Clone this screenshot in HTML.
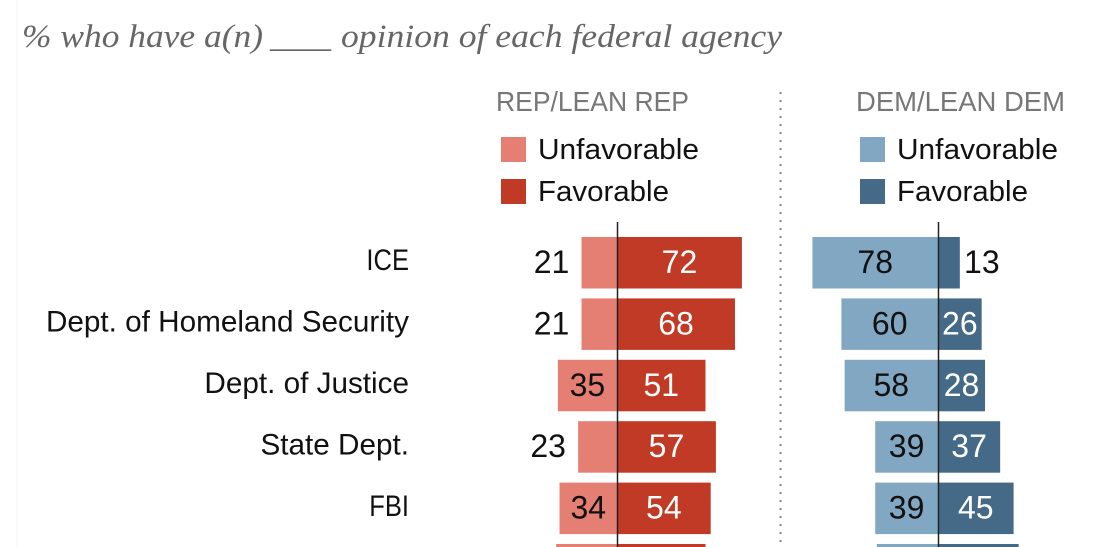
<!DOCTYPE html>
<html lang="en">
<head>
<meta charset="utf-8">
<title>Opinion of federal agencies by party</title>
<style>
html,body{margin:0;padding:0;background:#fff;width:1100px;height:547px;overflow:hidden}
svg{display:block;font-family:"Liberation Sans",sans-serif;overflow:hidden}
.title{font-family:"Liberation Serif",serif;font-style:italic;font-size:33px;fill:#666}
.head{font-size:28px;fill:#777}
.leg{font-size:29px;fill:#111}
.cat{font-size:29.7px;fill:#111}
.val{font-size:32px;text-anchor:middle}
</style>
</head>
<body>
<svg id="chart" width="1100" height="547" viewBox="0 0 1100 547" xmlns="http://www.w3.org/2000/svg">
<line x1="17" y1="0" x2="17" y2="547" stroke="#f4f4f4" stroke-width="1"/>
<text class="title" y="47"><tspan x="22" textLength="241" lengthAdjust="spacingAndGlyphs">% who have a(n)</tspan> <tspan x="270" textLength="61" lengthAdjust="spacingAndGlyphs">____</tspan> <tspan x="341" textLength="441" lengthAdjust="spacingAndGlyphs">opinion of each federal agency</tspan></text>
<text class="head" x="496" y="111" textLength="193" lengthAdjust="spacingAndGlyphs">REP/LEAN REP</text>
<text class="head" x="856" y="111" textLength="209" lengthAdjust="spacingAndGlyphs">DEM/LEAN DEM</text>
<line x1="780.5" y1="92" x2="780.5" y2="547" stroke="#888" stroke-width="2" stroke-dasharray="2 6"/>
<rect x="501" y="137" width="25" height="25" fill="#e67f73"/>
<text class="leg" x="538" y="159" textLength="161" lengthAdjust="spacingAndGlyphs">Unfavorable</text>
<rect x="501" y="179" width="25" height="25" fill="#c03a26"/>
<text class="leg" x="538" y="201" textLength="131" lengthAdjust="spacingAndGlyphs">Favorable</text>
<rect x="860" y="137" width="25" height="25" fill="#82a7c2"/>
<text class="leg" x="897" y="159" textLength="161" lengthAdjust="spacingAndGlyphs">Unfavorable</text>
<rect x="860" y="179" width="25" height="25" fill="#456a87"/>
<text class="leg" x="897" y="201" textLength="131" lengthAdjust="spacingAndGlyphs">Favorable</text>
<g id="marks"></g>
</svg>
<script>
var agencies = ["ICE", "Dept. of Homeland Security", "Dept. of Justice", "State Dept.", "FBI", ""];
var repUnfavorable = [21, 21, 35, 23, 34, 36];
var repFavorable = [72, 68, 51, 57, 54, 51];
var demUnfavorable = [78, 60, 58, 39, 39, 38];
var demFavorable = [13, 26, 28, 37, 45, 48];

var NS = "http://www.w3.org/2000/svg";
var marks = document.getElementById("marks");
var FRAME_BOTTOM = 547;
function make(tag, attrs, text) {
  var el = document.createElementNS(NS, tag);
  for (var k in attrs) el.setAttribute(k, attrs[k]);
  if (text !== undefined) el.textContent = text;
  marks.appendChild(el);
  return el;
}
function rowTop(i) { return 237 + i * 61.4; }
function repLeft(v) { return 617 - v * 1.69; }
function repRight(v) { return 617 + v * 1.735; }
function demLeft(v) { return 938 - v * 1.61; }
function demRight(v) { return 938 + v * 1.68; }
var BAR_H = 51.5;
var MIN_INSIDE = 42;

function drawBar(i, value, x0, x1, fill, color, side) {
  var top = rowTop(i);
  var bar = make("rect", {x: Math.min(x0, x1), y: top, width: Math.abs(x1 - x0), height: Math.min(BAR_H, FRAME_BOTTOM - top), fill: fill});
  
  
  if (!agencies[i]) return;
  var w = Math.abs(x1 - x0);
  var cx = (x0 + x1) / 2;
  var textColor = color;
  if (w < MIN_INSIDE) {
    cx = side < 0 ? Math.min(x0, x1) - 30 : Math.max(x0, x1) + 22;
    textColor = "#111";
  }
  var label = make("text", {"class": "val", x: cx, y: top + 36, fill: textColor}, String(value));
  
  
}

agencies.forEach(function (name, i) {
  drawBar(i, repUnfavorable[i], repLeft(repUnfavorable[i]), 617, "#e67f73", "#111", -1);
  drawBar(i, repFavorable[i], 617, repRight(repFavorable[i]), "#c03a26", "#fff", 1);
  drawBar(i, demUnfavorable[i], demLeft(demUnfavorable[i]), 938, "#82a7c2", "#111", -1);
  drawBar(i, demFavorable[i], 938, demRight(demFavorable[i]), "#456a87", "#fff", 1);
  if (name) {
    var cat = make("text", {"class": "cat", x: 409, y: 270 + i * 61.5, "text-anchor": "end"}, name);
    
    
    if (name === name.toUpperCase()) {
      cat.setAttribute('textLength', cat.getComputedTextLength() * 0.86);
      cat.setAttribute('lengthAdjust', 'spacingAndGlyphs');
    }
  }
});

var repAxis = make("line", {x1: 617.5, y1: 222, x2: 617.5, y2: FRAME_BOTTOM, stroke: "#222", "stroke-width": 1.5});


var demAxis = make("line", {x1: 938.5, y1: 222, x2: 938.5, y2: FRAME_BOTTOM, stroke: "#222", "stroke-width": 1.5});


</script>
</body>
</html>
